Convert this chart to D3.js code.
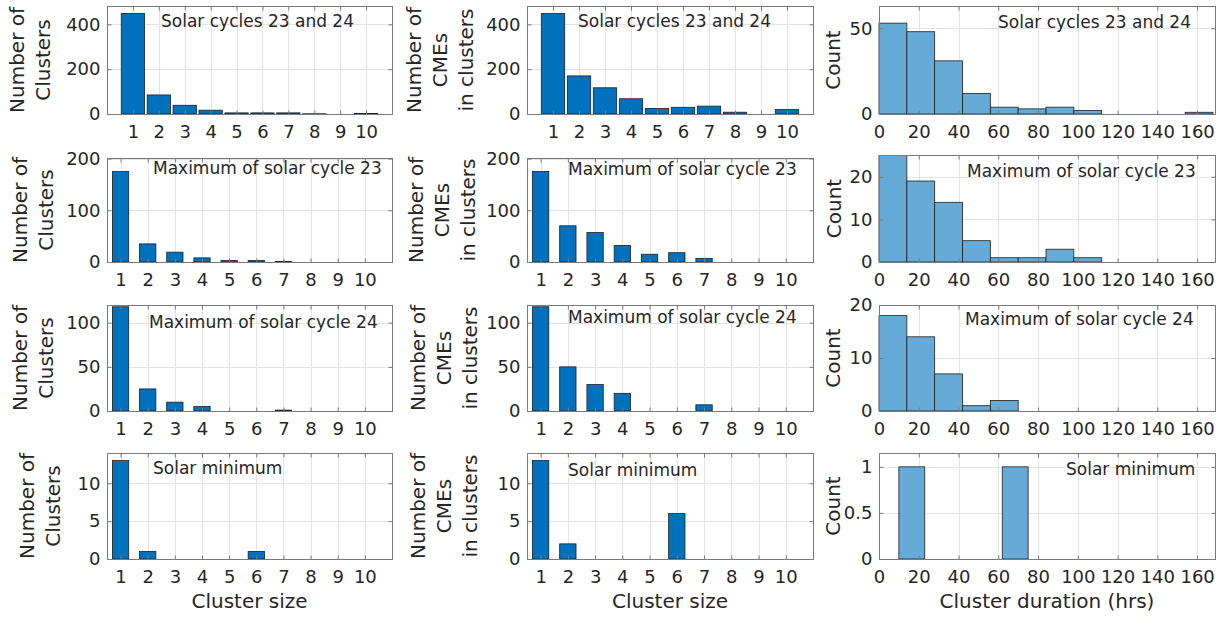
<!DOCTYPE html>
<html><head><meta charset="utf-8">
<script src="https://cdn.jsdelivr.net/npm/d3@7"></script>
<style>
body{margin:0;background:#fff;}
svg text{font-family:"DejaVu Sans",sans-serif;fill:#262626;}
</style></head><body>
<svg id="chart" width="1224" height="618"></svg>
<script>
// ---------- data ----------
const clusterSizes = [1,2,3,4,5,6,7,8,9,10];
const periods = ["Solar cycles 23 and 24","Maximum of solar cycle 23","Maximum of solar cycle 24","Solar minimum"];

const clustersCycles2324 = [449,85,39,17,5,5,5,1,0,2];
const clustersMax23      = [175,35,19,8,3,3,1,0,0,0];
const clustersMax24      = [118,25,10,5,0,0,1,0,0,0];
const clustersMin        = [13,1,0,0,0,1,0,0,0,0];

const cmesCycles2324 = [449,170,117,68,25,30,35,8,0,20];
const cmesMax23      = [175,70,57,32,15,18,7,0,0,0];
const cmesMax24      = [118,50,30,20,0,0,7,0,0,0];
const cmesMin        = [13,2,0,0,0,6,0,0,0,0];

const durationEdges      = [0,14,28,42,56,70,84,98,112,126,140,154,168];
const durationCycles2324 = [53,48,31,12,4,3,4,2,0,0,0,1];
const durationMax23      = [25,19,14,5,1,1,3,1,0,0,0,0];
const durationMax24      = [18,14,7,1,2,0,0,0,0,0,0,0];
const durationEdgesMin   = [10,23,36,49,62,75];
const durationMin        = [1,0,0,0,1];

const yTicksCount    = [[0,200,400],[0,100,200],[0,50,100],[0,5,10]];
const yTicksDuration = [[0,50],[0,10,20],[0,10,20],[0,0.5,1]];
const xTicksDuration = [0,20,40,60,80,100,120,140,160];
const yMaxCount    = [482,201,120,14];
const yMaxDuration = [63,25.1,20,1.15];

const yLabelClusters = ["Number of","Clusters"];
const yLabelCmes     = ["Number of","CMEs","in clusters"];
const yLabelCount    = ["Count"];
const xLabels = ["Cluster size","Cluster size","Cluster duration (hrs)"];

// ---------- layout / style ----------
const BLUE="#0072bd", HIST="#66aad7", EDGE="#1f1f1f", BOX="#7a7a7a", GRID="#e4e4e4";
const colX = [[107,392],[527,813],[879,1215]];
const rowY = [
  [[6,114],[158,262],[305,411],[453,559]],
  [[6,114],[158,262],[305,411],[453,559]],
  [[6,114],[155,262],[305,411],[453,559]]
];
const titlePos = [
  [[161,27],[578,27],[998,28]],
  [[153,174],[568,175],[967,177]],
  [[149,328],[568,323],[965,325]],
  [[153,474],[568,476],[1066,475]]
];
const yLabelBase = [[50,53,53,60],[473,475,477,477],[840,841,840,840]];

const svg = d3.select("#chart");

function crisp(v){ return Math.round(v)+0.5; }

function panel(col,row,xDomain,yMax,xTicks,yTicks,yLines,drawMarks){
  const [x0,x1]=colX[col], [y0,y1]=rowY[col][row];
  const x=d3.scaleLinear().domain(xDomain).range([x0,x1]);
  const y=d3.scaleLinear().domain([0,yMax]).range([y1,y0]);
  const g=svg.append("g");
  // grid
  g.append("g").selectAll("line").data(xTicks.filter(t=>t>xDomain[0]&&t<xDomain[1])).join("line")
    .attr("x1",d=>crisp(x(d))).attr("x2",d=>crisp(x(d))).attr("y1",y0).attr("y2",y1)
    .attr("stroke",GRID).attr("stroke-width",1);
  g.append("g").selectAll("line").data(yTicks.filter(t=>t>0&&t<yMax)).join("line")
    .attr("y1",d=>crisp(y(d))).attr("y2",d=>crisp(y(d))).attr("x1",x0).attr("x2",x1)
    .attr("stroke",GRID).attr("stroke-width",1);
  drawMarks(g,x,y);
  // axes
  const fmt = d=>String(d);
  const styleAxis = a=>{
    a.select(".domain").remove();
    a.selectAll(".tick line").attr("stroke",BOX);
    a.selectAll("text").attr("font-size",18).attr("font-family","DejaVu Sans").attr("fill","#262626");
  };
  g.append("g").attr("transform",`translate(0,${crisp(y1)})`)
    .call(d3.axisBottom(x).tickValues(xTicks).tickFormat(fmt).tickSize(-4).tickPadding(11)).call(styleAxis);
  g.append("g").attr("transform",`translate(0,${crisp(y0)})`)
    .call(d3.axisTop(x).tickValues(xTicks).tickFormat("").tickSize(-4)).call(styleAxis);
  g.append("g").attr("transform",`translate(${crisp(x0)},0)`)
    .call(d3.axisLeft(y).tickValues(yTicks).tickFormat(fmt).tickSize(-4).tickPadding(7)).call(styleAxis);
  g.append("g").attr("transform",`translate(${crisp(x1)},0)`)
    .call(d3.axisRight(y).tickValues(yTicks).tickFormat("").tickSize(-4)).call(styleAxis);
  // box
  g.append("rect").attr("x",crisp(x0)).attr("y",crisp(y0))
    .attr("width",Math.round(x1)-Math.round(x0)).attr("height",Math.round(y1)-Math.round(y0))
    .attr("fill","none").attr("stroke",BOX).attr("stroke-width",1);
  // title
  const tp=titlePos[row][col];
  g.append("text").attr("x",tp[0]).attr("y",tp[1]).attr("font-size",17).text(periods[row]);
  // y label
  const cy=(y0+y1)/2, base=yLabelBase[col][row], n=yLines.length;
  yLines.forEach((s,i)=>{
    g.append("text").attr("transform",`translate(${base-(n-1-i)*26},${cy}) rotate(-90)`)
      .attr("text-anchor","middle").attr("font-size",20).text(s);
  });
  if(row===3){
    g.append("text").attr("x",(x0+x1)/2).attr("y",y1+49).attr("text-anchor","middle")
      .attr("font-size",20).text(xLabels[col]);
  }
}

function barMarks(values,ratio){
  return (g,x,y)=>{
    const w=ratio*(x(1)-x(0));
    g.append("g").selectAll("rect").data(clusterSizes.map((c,i)=>({c,v:values[i]})).filter(d=>d.v>0)).join("rect")
      .attr("x",d=>x(d.c)-w/2).attr("width",w)
      .attr("y",d=>y(d.v)).attr("height",d=>y(0)-y(d.v))
      .attr("fill",BLUE).attr("stroke",EDGE).attr("stroke-width",0.8);
  };
}
function histMarks(edges,counts){
  return (g,x,y)=>{
    g.append("g").selectAll("rect").data(counts.map((v,i)=>({a:edges[i],b:edges[i+1],v})).filter(d=>d.v>0)).join("rect")
      .attr("x",d=>x(d.a)).attr("width",d=>x(d.b)-x(d.a))
      .attr("y",d=>y(d.v)).attr("height",d=>y(0)-y(d.v))
      .attr("fill",HIST).attr("stroke",EDGE).attr("stroke-width",0.8);
  };
}

const clusterSets=[clustersCycles2324,clustersMax23,clustersMax24,clustersMin];
const cmeSets=[cmesCycles2324,cmesMax23,cmesMax24,cmesMin];
const durSets=[[durationEdges,durationCycles2324],[durationEdges,durationMax23],[durationEdges,durationMax24],[durationEdgesMin,durationMin]];

for(let r=0;r<4;r++){
  const xd = r===0?[0,11]:[0.5,11];
  const ratio = r===0?0.9:0.6;
  panel(0,r,xd,yMaxCount[r],clusterSizes,yTicksCount[r],yLabelClusters,barMarks(clusterSets[r],ratio));
  panel(1,r,xd,yMaxCount[r],clusterSizes,yTicksCount[r],yLabelCmes,barMarks(cmeSets[r],ratio));
  panel(2,r,[0,169],yMaxDuration[r],xTicksDuration,yTicksDuration[r],yLabelCount,histMarks(durSets[r][0],durSets[r][1]));
}
</script>
</body></html>
